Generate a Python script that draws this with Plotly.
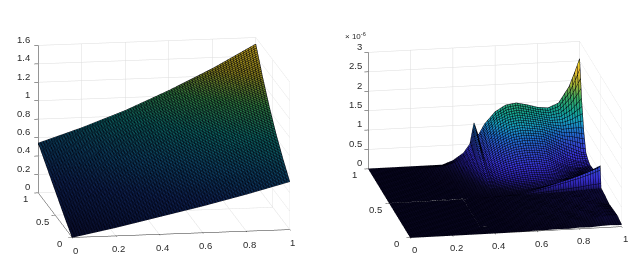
import plotly.graph_objects as go

LEFT_SCALE = [[0, "#0c1238"], [0.2, "#10285c"], [0.35, "#0f4a6a"], [0.5, "#0e6a62"],
              [0.65, "#2e7a3c"], [0.8, "#8a7f18"], [1, "#c9a51e"]]
RIGHT_SCALE = [[0, "#0e0a2c"], [0.02, "#14103c"], [0.08, "#2a20a0"], [0.15, "#3a34d8"], [0.25, "#3050d0"],
               [0.33, "#2070d0"], [0.42, "#18a0c0"], [0.5, "#15a590"], [0.62, "#38a860"], [0.75, "#a8b030"],
               [0.88, "#f0c030"], [1, "#f0f020"]]

left_x = [0, 0.2, 0.4, 0.6, 0.8, 1]
left_y = [0, 0.2, 0.4, 0.6, 0.8, 1]
left_z = [
    [0.00, 0.09, 0.19, 0.29, 0.40, 0.52],
    [0.10, 0.21, 0.32, 0.42, 0.54, 0.67],
    [0.21, 0.33, 0.45, 0.57, 0.70, 0.84],
    [0.32, 0.45, 0.59, 0.73, 0.88, 1.04],
    [0.43, 0.57, 0.72, 0.89, 1.07, 1.27],
    [0.54, 0.69, 0.86, 1.06, 1.28, 1.53],
]

right_x = [0, 0.2, 0.35, 0.4, 0.45, 0.48, 0.5, 0.52, 0.55, 0.6, 0.65, 0.7, 0.75, 0.8, 0.85, 0.9, 0.95, 0.98, 1]
right_y = [0, 0.1, 0.2, 0.3, 0.4, 0.49, 0.51, 0.55, 0.6, 0.65, 0.7, 0.75, 0.8, 0.85, 0.9, 0.95, 1]
right_z = [
    [0, 0, 0, 0, 0, .01, .01, .01, .01, .02, .02, .03, .02, .04, .03, .05, .06, .05, .05],
    [0, 0, 0, 0, .01, .01, .01, .02, .02, .03, .03, .05, .04, .07, .05, .09, .11, .10, .10],
    [0, 0, 0, .01, .01, .01, .02, .02, .03, .04, .05, .04, .07, .05, .09, .07, .10, .09, .08],
    [0, 0, 0, .01, .01, .02, .02, .03, .03, .05, .04, .07, .06, .08, .07, .10, .08, .06, .05],
    [0, 0, 0, .01, .02, .02, .03, .03, .04, .04, .06, .05, .08, .07, .10, .09, .11, .10, .10],
    [0, 0, 0, .01, .02, .02, .03, .03, .04, .05, .05, .06, .07, .08, .09, .10, .12, .12, .12],
    [0, 0, 0, .01, .01, .02, .02, .02, .03, .03, .07, .13, .20, .28, .36, .45, .55, .62, .67],
    [0, 0, .01, .01, .02, .03, .04, .04, .04, .05, .07, .10, .14, .20, .26, .33, .42, .47, .50],
    [0, 0, .01, .02, .04, .05, .07, .06, .08, .12, .15, .16, .18, .20, .22, .25, .30, .33, .35],
    [0, 0, .01, .03, .06, .08, .13, .12, .16, .22, .26, .28, .28, .25, .22, .22, .25, .27, .28],
    [0, 0, .02, .04, .08, .13, .21, .18, .26, .35, .40, .42, .42, .36, .26, .20, .22, .25, .27],
    [0, 0, .02, .05, .11, .18, .31, .25, .36, .48, .55, .58, .58, .52, .36, .24, .20, .22, .25],
    [0, 0, .03, .07, .14, .24, .43, .33, .47, .62, .72, .75, .74, .70, .55, .38, .28, .28, .30],
    [0, 0, .04, .09, .18, .30, .56, .41, .60, .78, .90, .94, .92, .88, .75, .62, .50, .42, .40],
    [0, 0, .05, .11, .22, .36, .72, .50, .73, .95, 1.10, 1.14, 1.10, 1.06, .98, .90, .90, .88, .85],
    [0, 0, .06, .13, .25, .42, .88, .60, .87, 1.15, 1.28, 1.32, 1.27, 1.20, 1.14, 1.16, 1.30, 1.45, 1.55],
    [0, 0, 0, .10, .28, .50, 1.05, .72, 1.00, 1.30, 1.46, 1.50, 1.44, 1.36, 1.33, 1.44, 1.85, 2.26, 2.56],
]

x_ticks = [0, 0.2, 0.4, 0.6, 0.8, 1]
x_labels = ["0", "0.2", "0.4", "0.6", "0.8", "1"]
y_ticks = [0, 0.5, 1]
y_labels = ["0", "0.5", "1"]
left_z_ticks = [0, 0.2, 0.4, 0.6, 0.8, 1, 1.2, 1.4, 1.6]
left_z_labels = ["0", "0.2", "0.4", "0.6", "0.8", "1", "1.2", "1.4", "1.6"]
right_z_ticks = [0, 0.5, 1, 1.5, 2, 2.5, 3]
right_z_labels = ["0", "0.5", "1", "1.5", "2", "2.5", "3"]

TEXT = "#2a2a2a"
FONT = dict(family="Liberation Sans", size=9.5, color=TEXT)


def surface(x, y, z, scene, zmax, size, scale):
    line = dict(show=True, color="#00000c", width=2, start=0, end=1, size=size, highlight=False)
    return go.Surface(
        x=x, y=y, z=z, scene=scene, cmin=0, cmax=zmax, colorscale=scale, showscale=False,
        hoverinfo="skip", lighting=dict(ambient=1, diffuse=0, specular=0, roughness=1, fresnel=0),
        contours=dict(x=line, y=line, z=dict(show=False, highlight=False)),
    )


def axis(vals, rng):
    return dict(
        range=rng, tickmode="array", tickvals=vals, title=dict(text=""), showticklabels=False,
        showbackground=False, showgrid=True, gridcolor="#dcdcdc", gridwidth=1, zeroline=False,
        showline=True, linecolor=TEXT, linewidth=1, ticks="outside", ticklen=4, tickcolor=TEXT,
        showspikes=False, autorange=False,
    )


def tick_notes(z_ticks, z_labels, x_shift, x_down, y_shift, y_down, z_shift):
    base = dict(showarrow=False, font=FONT, yanchor="middle")
    notes = [dict(base, x=v, y=0, z=0, text=t, xanchor="center", xshift=x_shift, yshift=x_down)
             for v, t in zip(x_ticks, x_labels)]
    notes += [dict(base, x=0, y=v, z=0, text=t, xanchor="center", xshift=y_shift, yshift=y_down)
              for v, t in zip(y_ticks, y_labels)]
    notes += [dict(base, x=0, y=1, z=v, text=t, xanchor="right", xshift=z_shift, yshift=6)
              for v, t in zip(z_ticks, z_labels)]
    return notes


fig = go.Figure()
fig.add_trace(surface(left_x, left_y, left_z, "scene", 1.6, 1 / 85, LEFT_SCALE))
fig.add_trace(surface(right_x, right_y, right_z, "scene2", 2.6, 1 / 85, RIGHT_SCALE))

fig.update_layout(
    width=642, height=265, margin=dict(l=0, r=0, t=0, b=0), paper_bgcolor="white",
    showlegend=False, font=FONT,
    scene=dict(
        domain=dict(x=[0, 312 / 642], y=[8 / 265, 263 / 265]),
        xaxis=axis(x_ticks, [0, 1]), yaxis=axis(y_ticks, [0, 1]),
        zaxis=axis(left_z_ticks, [0, 1.6]),
        aspectmode="manual", aspectratio=dict(x=1.73, y=1.63, z=1.185),
        camera=dict(eye=dict(x=-0.327, y=-1.973, z=0.446), center=dict(x=0, y=0, z=0),
                    up=dict(x=0, y=0, z=1), projection=dict(type="orthographic")),
        annotations=tick_notes(left_z_ticks, left_z_labels, 3, -13, -13, -6, -6),
    ),
    scene2=dict(
        domain=dict(x=[332 / 642, 1], y=[8 / 265, 259 / 265]),
        xaxis=axis(x_ticks, [0, 1]), yaxis=axis(y_ticks, [0, 1]),
        zaxis=axis(right_z_ticks, [0, 3]),
        aspectmode="manual", aspectratio=dict(x=1.71, y=1.905, z=0.97),
        camera=dict(eye=dict(x=-0.336, y=-1.883, z=0.585), center=dict(x=0, y=0, z=0),
                    up=dict(x=0, y=0, z=1), projection=dict(type="orthographic")),
        annotations=tick_notes(right_z_ticks, right_z_labels, 4, -12, -14, -6, -4),
    ),
    annotations=[dict(text="× 10<sup>-6</sup>", x=348 / 642, y=1 - 28 / 265, xref="paper", yref="paper",
                      xanchor="center", yanchor="middle", showarrow=False,
                      font=dict(family="Liberation Sans", size=8, color=TEXT))],
)

fig.write_html("out.html", config=dict(displayModeBar=False))
